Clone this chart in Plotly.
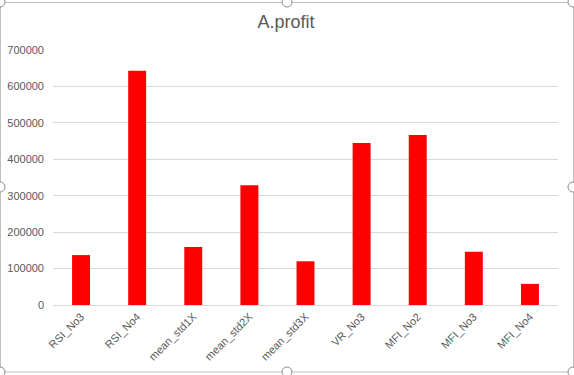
import plotly.graph_objects as go

categories = ["RSI_No3", "RSI_No4", "mean_std1X", "mean_std2X", "mean_std3X",
              "VR_No3", "MFI_No2", "MFI_No3", "MFI_No4"]
profit = [137000, 643000, 159000, 329000, 120000, 445000, 467000, 146000, 58000]
y_ticks = [0, 100000, 200000, 300000, 400000, 500000, 600000, 700000]

W, H = 574, 375
L, R, T, B = 53, 16, 50, 70
pw, ph = W - L - R, H - T - B

def px(x):
    return (x - L) / pw

def py(y):
    return (H - B - y) / ph

fig = go.Figure(go.Bar(x=categories, y=profit, marker=dict(color="#FF0000", line=dict(width=0)),
                       width=0.32))

shapes = [dict(type="rect", xref="paper", yref="paper", x0=px(0.5), x1=px(573.5), y0=py(2.5), y1=py(372),
               line=dict(color="#BFBFBF", width=1), fillcolor="rgba(0,0,0,0)", layer="above")]
r = 5
for cx, cy in [(0, 2), (287, 2), (573, 2), (0, 187), (573, 187), (0, 372), (287, 372), (573, 372)]:
    shapes.append(dict(type="circle", xref="paper", yref="paper",
                       x0=px(cx - r), x1=px(cx + r), y0=py(cy - r), y1=py(cy + r),
                       line=dict(color="#8C8C8C", width=1), fillcolor="white", layer="above"))

fig.update_layout(
    width=W, height=H,
    margin=dict(l=L, r=R, t=T, b=B, autoexpand=False),
    paper_bgcolor="white", plot_bgcolor="white",
    title=dict(text="A.profit", x=286 / W, xref="container", xanchor="center", y=1 - 22 / H, yanchor="middle",
               font=dict(family="Liberation Sans, Arial", size=18, color="#595959"), automargin=False),
    font=dict(family="Liberation Sans, Arial", size=11, color="#595959"),
    showlegend=False,
    bargap=0.68,
    shapes=shapes,
    xaxis=dict(tickangle=-45, showgrid=False, showline=True, linecolor="#D9D9D9", linewidth=1,
               ticks="", automargin=False, tickfont=dict(size=11, color="#595959")),
    yaxis=dict(range=[0, 700000], tickvals=y_ticks, ticktext=[str(v) for v in y_ticks],
               showgrid=True, gridcolor="#D9D9D9", gridwidth=1, zeroline=False, showline=False,
               ticks="", ticklabelstandoff=8, automargin=False, tickfont=dict(size=11, color="#595959")),
)

fig.write_html("out.html", config={"displayModeBar": False},
               post_script="document.body.style.margin='0';document.body.style.overflow='hidden';")
